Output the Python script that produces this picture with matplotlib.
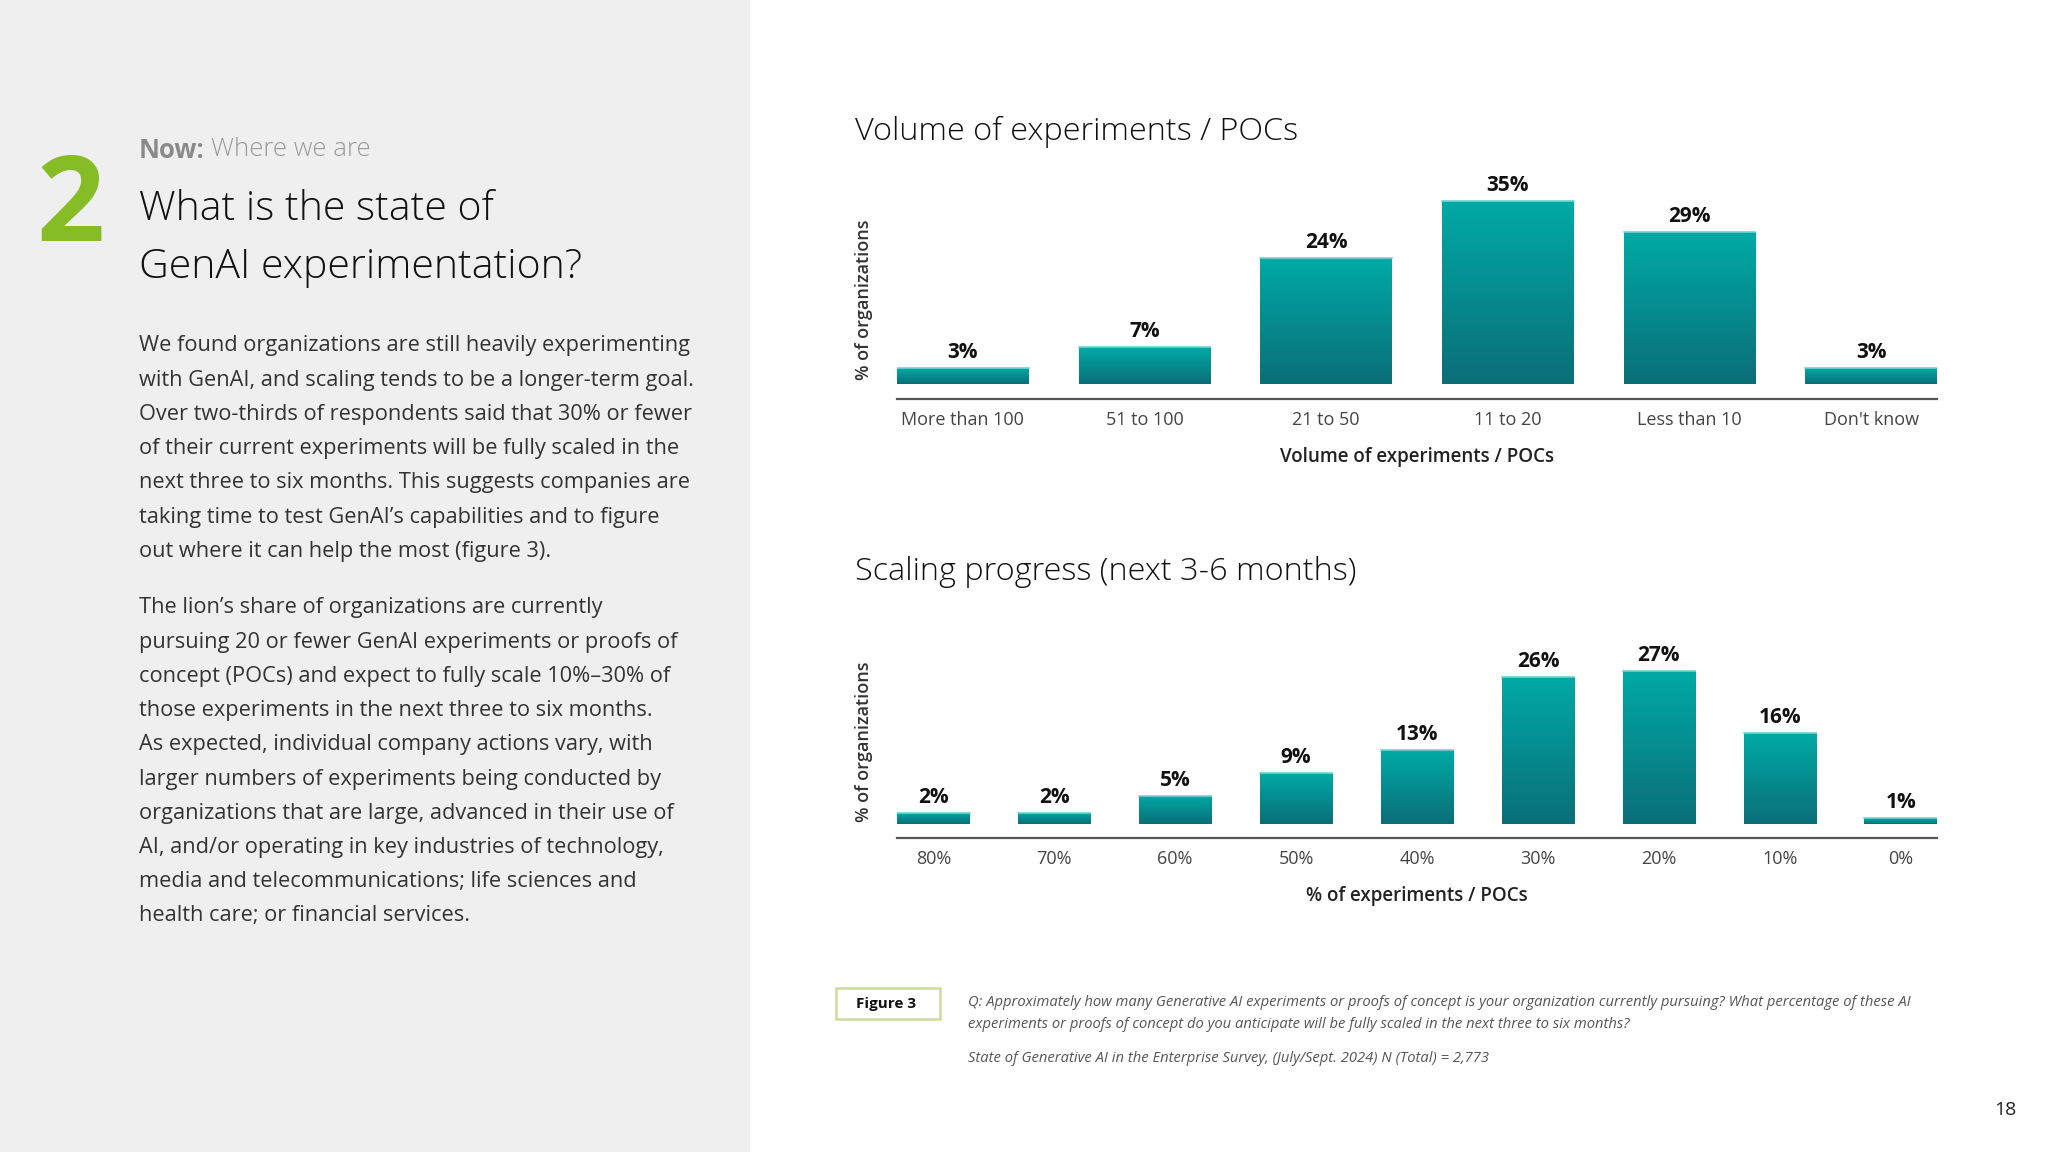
import numpy as np
import matplotlib.pyplot as plt
from matplotlib.patches import Rectangle
from matplotlib.colors import LinearSegmentedColormap

plt.rcParams['font.family'] = ['Open Sans', 'DejaVu Sans']

# chart data
volume_cats = ["More than 100", "51 to 100", "21 to 50", "11 to 20", "Less than 10", "Don't know"]
volume_vals = [3, 7, 24, 35, 29, 3]

scaling_cats = ["80%", "70%", "60%", "50%", "40%", "30%", "20%", "10%", "0%"]
scaling_vals = [2, 2, 5, 9, 13, 26, 27, 16, 1]

W, H = 2048, 1152
fig = plt.figure(figsize=(20.48, 11.52), dpi=100)
fig.patch.set_facecolor('white')

def fx(px):
    return px / W

def fy(py):
    return 1 - py / H

# left grey panel
fig.patches.append(Rectangle((0, 0), fx(750), 1, transform=fig.transFigure,
                             facecolor='#efefef', edgecolor='none', zorder=0))

fig.text(fx(36), fy(210), "2", fontsize=86, fontweight='bold', color='#86bc25',
         ha='left', va='center')
fig.text(fx(139), fy(150), "Now:", fontsize=18.5, fontweight='bold', color='#8a8a8a',
         ha='left', va='center')
fig.text(fx(211), fy(150), "Where we are", fontsize=18.5, fontweight=300, color='#9a9a9a',
         ha='left', va='center')
fig.text(fx(139), fy(209), "What is the state of", fontsize=29.5, fontweight=300,
         color='#111111', ha='left', va='center')
fig.text(fx(139), fy(268), "GenAI experimentation?", fontsize=29.5, fontweight=300,
         color='#111111', ha='left', va='center')

para1 = [
    "We found organizations are still heavily experimenting",
    "with GenAI, and scaling tends to be a longer-term goal.",
    "Over two-thirds of respondents said that 30% or fewer",
    "of their current experiments will be fully scaled in the",
    "next three to six months. This suggests companies are",
    "taking time to test GenAI\u2019s capabilities and to figure",
    "out where it can help the most (figure 3).",
]
para2 = [
    "The lion\u2019s share of organizations are currently",
    "pursuing 20 or fewer GenAI experiments or proofs of",
    "concept (POCs) and expect to fully scale 10%\u201330% of",
    "those experiments in the next three to six months.",
    "As expected, individual company actions vary, with",
    "larger numbers of experiments being conducted by",
    "organizations that are large, advanced in their use of",
    "AI, and/or operating in key industries of technology,",
    "media and telecommunications; life sciences and",
    "health care; or financial services.",
]
for i, line in enumerate(para1):
    fig.text(fx(139), fy(346 + i * 34.2), line, fontsize=15.7, color='#333333',
             ha='left', va='center')
for i, line in enumerate(para2):
    fig.text(fx(139), fy(608 + i * 34.2), line, fontsize=15.7, color='#333333',
             ha='left', va='center')

cmap = LinearSegmentedColormap.from_list('teal', ['#0b6e77', '#00aaa6'])
grad = np.linspace(0, 1, 256).reshape(-1, 1)


def bar_chart(ax, cats, vals, width, ylim, xlabel):
    x = np.arange(len(cats))
    bars = ax.bar(x, vals, width=width, color='#05918f', zorder=2)
    for b, v in zip(bars, vals):
        x0, x1 = b.get_x(), b.get_x() + b.get_width()
        im = ax.imshow(grad, extent=[x0, x1, 0, v], origin='lower', cmap=cmap,
                       aspect='auto', zorder=3)
        im.set_clip_path(b)
        ax.plot([x0, x1], [v, v], color='#6fd6cf', lw=1.2, zorder=4)
        ax.annotate(f"{v}%", (b.get_x() + b.get_width() / 2, v), xytext=(0, 3.5),
                    textcoords='offset points', ha='center', va='bottom',
                    fontsize=15, fontweight='bold', color='#111111')
    ax.set_xlim(-width / 2, len(cats) - 1 + width / 2)
    ax.set_ylim(*ylim)
    ax.set_xticks(x)
    ax.set_xticklabels(cats, fontsize=13, color='#444444')
    ax.tick_params(axis='x', length=0, pad=8.5)
    ax.set_yticks([])
    for s in ['top', 'right', 'left']:
        ax.spines[s].set_visible(False)
    ax.spines['bottom'].set_color('#555555')
    ax.spines['bottom'].set_linewidth(1.6)
    ax.set_xlabel(xlabel, fontsize=13.5, fontweight='semibold', color='#222222', labelpad=13)
    ax.set_ylabel("% of organizations", fontsize=13, fontweight='semibold', color='#333333')
    ax.patch.set_alpha(0)


ax1 = fig.add_axes([fx(897), fy(399), fx(1040), 214 / H])
bar_chart(ax1, volume_cats, volume_vals, 0.725, (-2.9, 38), "Volume of experiments / POCs")
ax1.yaxis.set_label_coords(-24 / 1040, (399 - 300) / 214)

ax2 = fig.add_axes([fx(897), fy(838), fx(1040), 184 / H])
bar_chart(ax2, scaling_cats, scaling_vals, 0.6, (-2.5, 30), "% of experiments / POCs")
ax2.yaxis.set_label_coords(-24 / 1040, (838 - 742) / 184)

fig.text(fx(855), fy(132), "Volume of experiments / POCs", fontsize=23.3,
         fontweight=300, color='#111111', ha='left', va='center')
fig.text(fx(855), fy(572), "Scaling progress (next 3-6 months)", fontsize=23.3,
         fontweight=300, color='#111111', ha='left', va='center')

# footer
fig.patches.append(Rectangle((fx(836), fy(1019)), fx(104), 31 / H, transform=fig.transFigure,
                             facecolor='white', edgecolor='#c9dc9e', lw=1.8, zorder=1))
fig.text(fx(886), fy(1004), "Figure 3", fontsize=11, fontweight='bold', color='#111111',
         ha='center', va='center')
fig.text(fx(968), fy(1003),
         "Q: Approximately how many Generative AI experiments or proofs of concept is your "
         "organization currently pursuing? What percentage of these AI",
         fontsize=10.6, style='italic', color='#555555', ha='left', va='center')
fig.text(fx(968), fy(1025),
         "experiments or proofs of concept do you anticipate will be fully scaled in the "
         "next three to six months?",
         fontsize=10.6, style='italic', color='#555555', ha='left', va='center')
fig.text(fx(968), fy(1058),
         "State of Generative AI in the Enterprise Survey, (July/Sept. 2024) N (Total) = 2,773",
         fontsize=10.6, style='italic', color='#555555', ha='left', va='center')
fig.text(fx(2005), fy(1110), "18", fontsize=14, color='#222222', ha='center', va='center')

fig.savefig("out.png", dpi=100)
